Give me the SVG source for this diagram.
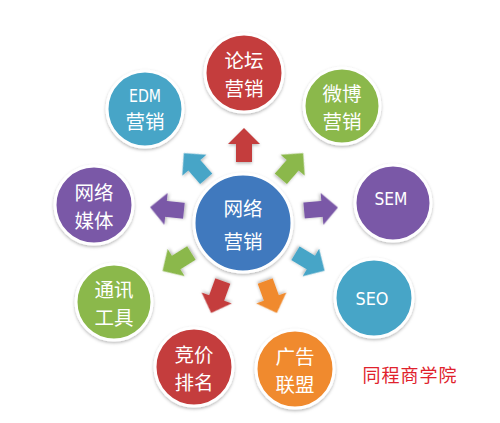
<svg xmlns="http://www.w3.org/2000/svg" width="500" height="423" viewBox="0 0 500 423">
<defs>
<filter id="sh" x="-20%" y="-20%" width="140%" height="140%">
<feDropShadow dx="0" dy="1.5" stdDeviation="1.8" flood-color="#000" flood-opacity="0.28"/>
</filter>
<path id="arr" d="M0,-17 L16,-1 L8,-1 L8,17 L-8,17 L-8,-1 L-16,-1 Z"/>
</defs>
<style>
.c{stroke:#fff;stroke-width:3;filter:url(#sh)}
.t{font-family:"Noto Sans CJK SC","Noto Sans",sans-serif;fill:#fff;font-size:19.5px;text-anchor:middle;dominant-baseline:central}
.e{font-family:"DejaVu Sans","Liberation Sans",sans-serif;fill:#fff;font-size:18px;text-anchor:middle;dominant-baseline:central}
.red{fill:#c43d3c}.teal{fill:#47a5c7}.green{fill:#8bb84b}.purple{fill:#7a58a7}.orange{fill:#f08a2f}.blue{fill:#3f79be}
.a{filter:url(#sh)}
</style>
<rect width="500" height="423" fill="#fff"/>
<g id="connectors">
<use href="#arr" class="a red" transform="translate(244,145)"/>
<use href="#arr" class="a teal" transform="translate(195,166) rotate(-41)"/>
<use href="#arr" class="a green" transform="translate(292,166) rotate(41)"/>
<use href="#arr" class="a purple" transform="translate(167,209) rotate(-84)"/>
<use href="#arr" class="a purple" transform="translate(321,209) rotate(85)"/>
<use href="#arr" class="a green" transform="translate(177,262) rotate(-122)"/>
<use href="#arr" class="a teal" transform="translate(310,262) rotate(121)"/>
<use href="#arr" class="a red" transform="translate(217,297) rotate(-160)"/>
<use href="#arr" class="a orange" transform="translate(271,297) rotate(160)"/>
</g>
<g id="center">
<circle class="c blue" cx="243" cy="223" r="49"/>
<text class="t" font-size="23"><tspan x="243" y="207">网络</tspan><tspan x="243" y="240">营销</tspan></text>
</g>
<g id="luntan">
<circle class="c red" cx="244" cy="73" r="39"/>
<text class="t"><tspan x="244" y="59">论坛</tspan><tspan x="244" y="87">营销</tspan></text>
</g>
<g id="edm">
<circle class="c teal" cx="145" cy="109" r="38"/>
<text class="e" x="145" y="95" font-size="18" textLength="32" lengthAdjust="spacingAndGlyphs">EDM</text>
<text class="t" x="145" y="120">营销</text>
</g>
<g id="weibo">
<circle class="c green" cx="342" cy="106" r="38"/>
<text class="t"><tspan x="342" y="92">微博</tspan><tspan x="342" y="120">营销</tspan></text>
</g>
<g id="sem">
<circle class="c purple" cx="393" cy="203" r="38"/>
<text class="e" x="391" y="198" font-size="19" textLength="33" lengthAdjust="spacingAndGlyphs">SEM</text>
</g>
<g id="seo">
<circle class="c teal" cx="374" cy="298" r="39"/>
<text class="e" x="372" y="298" font-size="19" textLength="33" lengthAdjust="spacingAndGlyphs">SEO</text>
</g>
<g id="guanggao">
<circle class="c orange" cx="295" cy="369" r="39"/>
<text class="t"><tspan x="295" y="355">广告</tspan><tspan x="295" y="383">联盟</tspan></text>
</g>
<g id="jingjia">
<circle class="c red" cx="194" cy="367" r="39"/>
<text class="t"><tspan x="194" y="353">竞价</tspan><tspan x="194" y="381">排名</tspan></text>
</g>
<g id="tongxun">
<circle class="c green" cx="114" cy="302" r="38"/>
<text class="t"><tspan x="114" y="288">通讯</tspan><tspan x="114" y="316">工具</tspan></text>
</g>
<g id="meiti">
<circle class="c purple" cx="94" cy="205" r="39"/>
<text class="t"><tspan x="94" y="191">网络</tspan><tspan x="94" y="219">媒体</tspan></text>
</g>
<text x="410" y="374" font-family="'Noto Sans CJK SC',sans-serif" font-size="18" fill="#e0222c" text-anchor="middle" dominant-baseline="central" letter-spacing="1">同程商学院</text>
</svg>
